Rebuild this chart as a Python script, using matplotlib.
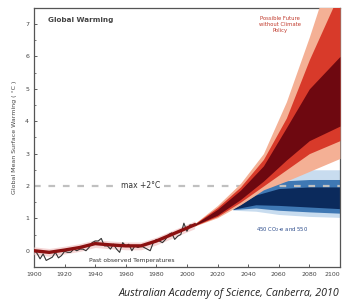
import numpy as np
import matplotlib.pyplot as plt

# observed temperatures (2-yearly), smoothed trend
obs_years = np.arange(1900, 2008, 2)
obs_temp = [0.02, -0.08, -0.25, -0.1, -0.3, -0.25, -0.2, -0.05, -0.22, -0.15,
            -0.02, -0.05, -0.05, 0.05, 0.0, 0.05, 0.05, 0.0, 0.1, 0.25,
            0.3, 0.3, 0.38, 0.15, 0.15, 0.05, 0.2, 0.05, -0.05, 0.25,
            0.15, 0.2, 0.0, 0.15, 0.1, 0.15, 0.1, 0.05, 0.0, 0.25,
            0.35, 0.3, 0.25, 0.35, 0.5, 0.55, 0.35, 0.45, 0.5, 0.85,
            0.6, 0.8, 0.78, 0.82]
trend_years = [1900, 1910, 1920, 1930, 1940, 1950, 1960, 1970, 1980, 1990, 2000, 2005]
trend_temp = [0.0, -0.05, 0.02, 0.1, 0.22, 0.18, 0.15, 0.15, 0.3, 0.5, 0.7, 0.8]

# future without climate policy (red fan), outer -> inner bands
fan_years = [2005, 2020, 2035, 2050, 2065, 2080, 2100]
red_l1_lo = [0.76, 1.02, 1.42, 1.88, 2.15, 2.45, 2.85]
red_l1_hi = [0.84, 1.40, 2.08, 3.0, 4.6, 6.6, 9.5]
red_l2_lo = [0.77, 1.06, 1.50, 2.0, 2.5, 3.0, 3.4]
red_l2_hi = [0.83, 1.34, 1.97, 2.82, 4.1, 5.9, 8.0]
red_l3_lo = [0.78, 1.10, 1.58, 2.15, 2.8, 3.4, 3.85]
red_l3_hi = [0.82, 1.28, 1.87, 2.62, 3.8, 5.0, 6.0]

# stabilisation scenarios (blue band)
blue_years = [2030, 2045, 2060, 2080, 2100]
blue_l1_lo = [1.25, 1.22, 1.12, 1.06, 1.03]
blue_l1_hi = [1.30, 1.95, 2.4, 2.5, 2.5]
blue_l2_lo = [1.27, 1.32, 1.25, 1.2, 1.16]
blue_l2_hi = [1.29, 1.82, 2.15, 2.2, 2.2]
blue_l3_lo = [1.28, 1.42, 1.4, 1.35, 1.3]
blue_l3_hi = [1.29, 1.72, 1.92, 1.97, 1.97]

fig = plt.figure(figsize=(3.43, 3.04), dpi=100)
ax = fig.add_axes([0.099, 0.122, 0.892, 0.852])

ax.axhline(2, color='#c0c0c0', lw=1.6, ls=(0, (3, 3.5)), zorder=2)

ax.fill_between(blue_years, blue_l1_lo, blue_l1_hi, color='#c8dcef', lw=0, zorder=1)
ax.fill_between(blue_years, blue_l2_lo, blue_l2_hi, color='#3f78b4', lw=0, zorder=1)
ax.fill_between(blue_years, blue_l3_lo, blue_l3_hi, color='#0b2a5c', lw=0, zorder=1)

ax.fill_between(fan_years, red_l1_lo, red_l1_hi, color='#f4b095', lw=0, zorder=3)
ax.fill_between(fan_years, red_l2_lo, red_l2_hi, color='#d83a2a', lw=0, zorder=3)
ax.fill_between(fan_years, red_l3_lo, red_l3_hi, color='#6e0810', lw=0, zorder=3)

ax.fill_between(trend_years, np.array(trend_temp) - 0.12, np.array(trend_temp) + 0.12,
                color='#f5d6d6', lw=0, zorder=3)
ax.plot(obs_years, obs_temp, color='#333333', lw=0.8, zorder=4)
ax.plot(trend_years, trend_temp, color='#8b1010', lw=2.4, zorder=5)

ax.set_xlim(1900, 2100)
ax.set_ylim(-0.46, 7.5)
ax.set_xticks(np.arange(1900, 2101, 20))
ax.set_yticks(range(0, 8))
ax.set_yticks(np.arange(-0.5, 7.6, 0.5), minor=True)
ax.tick_params(direction='in', labelsize=4.5, length=2.5, width=0.6, colors='#444444')
ax.tick_params(which='minor', direction='in', length=1.5, width=0.5, colors='#444444')
ax.get_xticklabels()[-1].set_horizontalalignment('right')
for s in ax.spines.values():
    s.set_color('#555555')
    s.set_linewidth(0.9)
ax.set_ylabel('Global Mean Surface Warming ( °C )', fontsize=4.5, color='#444444', labelpad=6)

ax.text(1909, 7.05, 'Global Warming', fontsize=5.2, fontweight='bold', color='#444444')
ax.text(2061, 7.25, 'Possible Future\nwithout Climate\nPolicy', fontsize=3.8, color='#c0392b',
        ha='center', va='top', linespacing=1.3)
ax.text(1970, 2, 'max +2°C', fontsize=5.5, color='#333333', ha='center', va='center',
        bbox=dict(facecolor='white', edgecolor='none', pad=1), zorder=2)
ax.text(1936, -0.3, 'Past observed Temperatures', fontsize=4.3, color='#333333', va='center')
ax.text(2062, 0.65, '450 CO$_2$-e and 550', fontsize=3.8, color='#2a4a8a', ha='center', va='center')

fig.text(0.99, 0.035, 'Australian Academy of Science, Canberra, 2010', fontsize=7.7,
         style='italic', family='Open Sans', color='#222222', ha='right', va='center')

plt.savefig('out.png', dpi=100)
